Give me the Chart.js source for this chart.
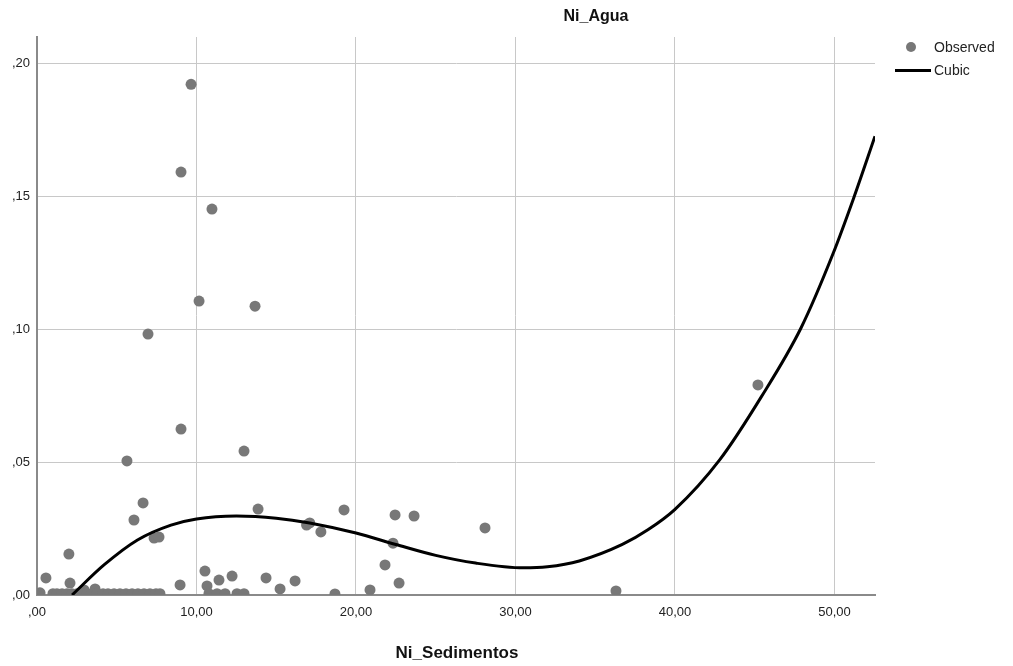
<!DOCTYPE html>
<html lang="es">
<head>
<meta charset="UTF-8">
<title>Ni_Agua</title>
<script src="https://cdn.jsdelivr.net/npm/chart.js@4.4.2/dist/chart.umd.min.js"></script>
<style>
  html, body { margin: 0; padding: 0; background: #fff; }
  body { font-family: 'Liberation Sans', Arial, sans-serif; }
  #wrap { position: relative; width: 1013px; height: 666px; }
  #wrap canvas { position: absolute; left: 0; top: 0; }
  .title { position: absolute; font-weight: bold; color: #111; white-space: nowrap; transform: translateX(-50%); }
  .legend { position: absolute; left: 893px; top: 38px; font-size: 14px; color: #222; }
  .legend div { position: relative; height: 23px; line-height: 18px; padding-left: 41px; }
  .dot { position: absolute; left: 13px; top: 4px; width: 10px; height: 10px; border-radius: 50%; background: #777; }
  .ln { position: absolute; left: 2px; top: 8px; width: 36px; height: 3px; background: #000; }
</style>
</head>
<body>
<div id="wrap">
  <canvas id="chart" width="1013" height="666"></canvas>
  <div class="title" style="left:596px; top:7px; font-size:16px;">Ni_Agua</div>
  <div class="title" style="left:457px; top:643px; font-size:17px;">Ni_Sedimentos</div>
  <div class="legend">
    <div><span class="dot"></span>Observed</div>
    <div><span class="ln"></span>Cubic</div>
  </div>
</div>
<script>
// observed points (Ni_Sedimentos, Ni_Agua)
const obsX = [
  0.19, 0.56, 2.0, 2.07, 3.64, 2.95,
  1.0, 1.25, 1.57, 1.88, 2.19, 2.51, 2.82, 3.13, 3.45, 3.76, 4.14, 4.45, 4.83, 5.2, 5.58, 5.96, 6.33, 6.71, 7.08, 7.46, 7.71,
  5.64, 6.08, 6.65, 6.96, 7.34, 7.65, 8.97, 9.03, 9.03, 9.66,
  10.16, 10.53, 10.66, 10.97, 11.41, 12.23, 10.78, 11.29, 11.79, 12.54, 12.98,
  12.98, 13.67, 13.86, 14.36, 15.24, 16.18, 16.9, 17.1, 17.8, 18.68, 19.25,
  20.88, 21.82, 22.32, 22.45, 22.7, 23.64, 28.09, 36.3, 45.2
];
const obsY = [
  0.0008, 0.0064, 0.0154, 0.0045, 0.0023, 0.0019,
  0.0005, 0.0005, 0.0005, 0.0005, 0.0005, 0.0005, 0.0005, 0.0005, 0.0005, 0.0005, 0.0005, 0.0005, 0.0005, 0.0005, 0.0005, 0.0005, 0.0005, 0.0005, 0.0005, 0.0005, 0.0005,
  0.0504, 0.0282, 0.0346, 0.0981, 0.0214, 0.0218, 0.0038, 0.159, 0.0624, 0.192,
  0.1105, 0.009, 0.0034, 0.1451, 0.0056, 0.0071, 0.0005, 0.0005, 0.0005, 0.0005, 0.0005,
  0.0541, 0.1086, 0.0323, 0.0064, 0.0023, 0.0053, 0.0263, 0.0271, 0.0237, 0.0004, 0.032,
  0.0019, 0.0113, 0.0195, 0.0301, 0.0045, 0.0297, 0.0252, 0.0015, 0.079
];

// cubic fit
const fitX = [2.2, 4.2, 6.3, 8.4, 10, 12.5, 15, 17.1, 20, 22.5, 25, 27.5, 30.5, 32, 34, 36.7, 38.3, 40, 42.8, 45.4, 47.9, 49.9, 51.2, 52.54];
const fitY = [0, 0.0113, 0.0207, 0.0263, 0.0286, 0.0297, 0.0289, 0.0271, 0.0233, 0.0190, 0.0149, 0.0120, 0.0102, 0.0106, 0.0128, 0.0190, 0.0245, 0.0322, 0.0508, 0.0744, 0.1004, 0.1282, 0.1492, 0.1725];

const xMax = 52.54;
const yMax = 0.2098;

function fmtComma(v) {
  // SPSS style: 10,00 / ,20
  const s = v.toFixed(2).replace('.', ',');
  return s.startsWith('0,') ? s.slice(1) : s;
}

new Chart(document.getElementById('chart'), {
  type: 'scatter',
  data: {
    datasets: [
      {
        label: 'Cubic',
        data: fitX.map((x, i) => ({ x: x, y: fitY[i] })),
        showLine: true,
        borderColor: '#000',
        borderWidth: 3,
        pointRadius: 0,
        cubicInterpolationMode: 'monotone',
        order: 0
      },
      {
        label: 'Observed',
        data: obsX.map((x, i) => ({ x: x, y: obsY[i] })),
        backgroundColor: '#787878',
        borderWidth: 0,
        pointRadius: 5.5,
        order: 1
      }
    ]
  },
  options: {
    responsive: false,
    animation: false,
    layout: { padding: { left: 0, top: 37, right: 138, bottom: 0 } },
    plugins: { legend: { display: false }, tooltip: { enabled: false } },
    scales: {
      x: {
        type: 'linear',
        min: 0,
        max: xMax,
        afterFit: s => { s.height = 71; },
        grid: { color: '#c8c8c8', lineWidth: 1, drawTicks: false },
        border: { color: '#8a8a8a', width: 2 },
        ticks: {
          stepSize: 10,
          includeBounds: false,
          padding: 10,
          color: '#222',
          font: { family: "'Liberation Sans', Arial", size: 13 },
          callback: v => fmtComma(v)
        }
      },
      y: {
        min: 0,
        max: yMax,
        afterFit: s => { s.width = 37; },
        grid: { color: '#c8c8c8', lineWidth: 1, drawTicks: false },
        border: { color: '#8a8a8a', width: 2 },
        ticks: {
          stepSize: 0.05,
          includeBounds: false,
          padding: 7,
          color: '#222',
          font: { family: "'Liberation Sans', Arial", size: 13 },
          callback: v => fmtComma(v)
        }
      }
    }
  }
});
</script>
</body>
</html>
